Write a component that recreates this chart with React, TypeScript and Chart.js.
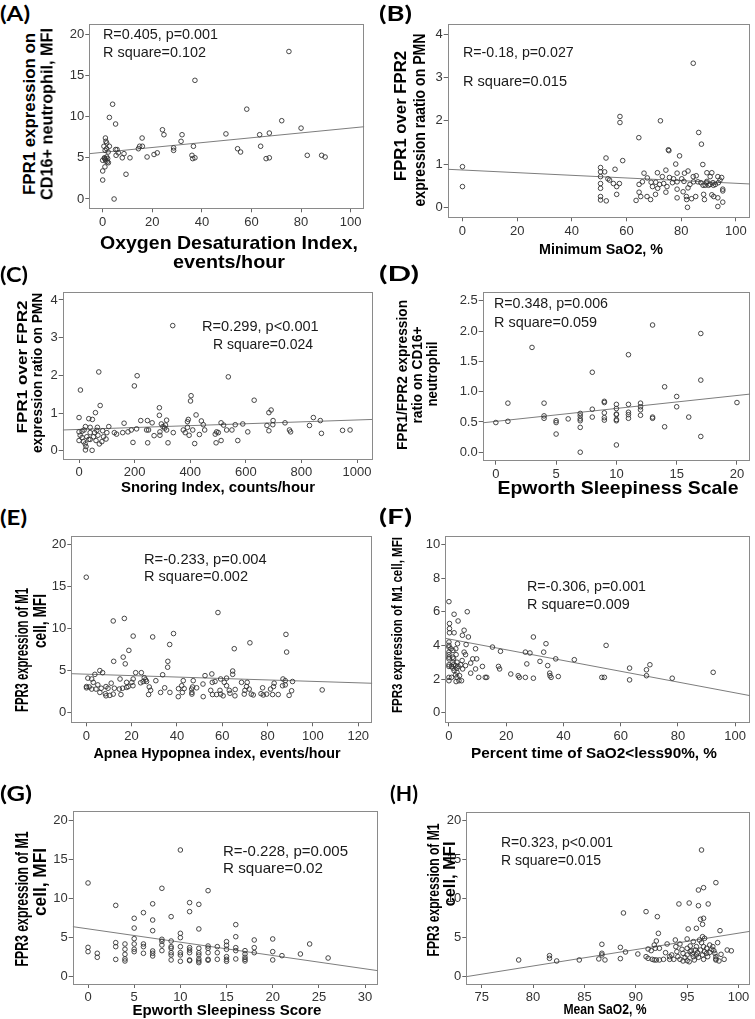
import React, { useEffect, useRef } from "react";
import { Chart, registerables } from "chart.js";
Chart.register(...registerables);

const FONT = "'Liberation Sans', Arial, Helvetica, sans-serif";
const LETTER_FONT = "Lato, 'Open Sans', sans-serif";

// ---------------- DATA ----------------
// (A) Oxygen Desaturation Index vs FPR1 on CD16+ neutrophil
const xA = [75.1,37.2,4.0,2.7,5.2,58.1,72.2,80.0,24.1,24.7,32.0,49.7,63.3,67.2,1.1,1.3,1.6,15.9,31.6,0.5,1.6,2.7,2.2,14.9,16.0,14.4,36.6,63.7,54.4,55.6,28.6,28.6,5.2,5.8,6.3,5.4,8.6,7.9,11.0,17.9,20.7,22.0,36.0,36.3,37.2,65.9,67.2,82.5,88.3,89.7,0.7,1.1,1.3,1.6,1.9,0,0.9,0,9.4,0,4.6,2.3,1.0,0.8,2.0];
const yA = [17.9,14.4,11.5,9.9,9.1,10.9,9.5,8.6,8.4,7.8,7.8,7.9,7.8,8.0,7.4,7.0,6.8,7.4,7.0,6.4,6.1,6.4,5.7,6.4,6.4,6.1,6.4,6.4,6.1,5.7,6.2,5.9,6.0,6.0,5.6,5.3,5.5,5.0,5.0,5.1,5.4,5.6,5.3,4.9,5.0,4.9,5.0,5.3,5.3,5.1,5.0,4.8,4.6,5.1,4.5,4.7,3.9,3.4,3.0,2.3,0.0,4.4,5.9,4.9,4.9];
const fitA = [5.66, 0.0295];

// (B) Minimum SaO2 vs FPR1/FPR2 ratio on PMN
const xB = [0,0,84.4,57.6,57.6,72.4,86.4,64.5,87.4,75.3,75.5,79.4,52.5,58.6,78.0,87.9,50.5,55.8,74.4,50.5,52.0,66.4,71.3,78.5,81.2,82.5,89.4,91.2,50.5,53.2,53.8,67.6,73.1,75.7,77.2,78.5,80.2,81.0,84.4,85.5,93.4,50.5,55.2,57.4,64.6,65.8,69.0,70.7,72.1,73.6,69.5,71.4,74.8,76.8,83.2,87.2,88.0,89.2,90.6,91.6,92.5,93.6,56.4,50.5,78.5,80.7,82.5,64.6,74.4,95.2,95.2,56.4,65.2,67.5,70.6,78.5,81.9,85.3,88.2,91.2,91.9,93.4,50.5,50.5,52.6,63.5,68.8,82.0,83.8,88.5,95.2,82.3,93.4,88.8,90.0,91.8,89.4,94.2,94.8,90.6,84.5,86.1];
const yB = [0.94,0.48,3.33,2.10,1.96,2.0,1.73,1.61,1.46,1.33,1.31,1.19,1.14,1.08,1.0,0.99,0.92,0.88,0.86,0.82,0.82,0.79,0.80,0.79,0.79,0.84,0.80,0.80,0.71,0.66,0.63,0.68,0.71,0.69,0.66,0.59,0.66,0.60,0.71,0.73,0.71,0.55,0.55,0.55,0.53,0.59,0.58,0.58,0.53,0.55,0.48,0.44,0.48,0.57,0.53,0.57,0.51,0.57,0.53,0.57,0.53,0.57,0.48,0.44,0.42,0.36,0.45,0.35,0.35,0.42,0.38,0.30,0.25,0.25,0.30,0.22,0.25,0.25,0.30,0.29,0.25,0.22,0.25,0.17,0.15,0.16,0.18,0.18,0.20,0.18,0.12,0.0,0.02,0.51,0.51,0.51,0.60,0.63,0.69,0.71,0.59,0.59];
const fitB = [0.863, -0.00307];

// (C) Snoring Index vs FPR1/FPR2 ratio on PMN
const xC = [337,71,209,199,5,537,403,401,630,76,289,691,683,59,0,35,48,289,421,843,868,829,222,246,315,393,390,440,447,511,589,562,698,697,676,741,520,162,263,296,302,308,311,107,66,40,23,85,64,18,0,11,40,56,100,127,135,157,176,188,207,243,250,291,315,291,270,339,375,390,382,396,409,433,452,495,501,490,531,550,607,683,757,761,872,948,975,194,247,320,416,493,511,571,0,16,22,25,23,47,40,61,73,82,97,4,11,28,35,52,68,88];
const yC = [3.32,2.09,1.99,1.72,1.61,1.96,1.46,1.32,1.34,1.20,1.14,1.08,1.01,1.01,0.88,0.85,0.83,0.94,0.95,0.88,0.80,0.67,0.80,0.80,0.81,0.83,0.77,0.79,0.69,0.74,0.71,0.69,0.80,0.69,0.67,0.74,0.68,0.73,0.74,0.71,0.64,0.60,0.68,0.64,0.62,0.62,0.64,0.53,0.54,0.55,0.50,0.52,0.48,0.48,0.48,0.48,0.44,0.48,0.50,0.55,0.58,0.55,0.55,0.50,0.55,0.41,0.40,0.48,0.55,0.62,0.48,0.41,0.55,0.43,0.55,0.50,0.48,0.44,0.55,0.55,0.50,0.53,0.55,0.50,0.46,0.54,0.55,0.22,0.21,0.21,0.19,0.21,0.27,0.27,0.27,0.24,0.18,0.11,0.02,0.01,0.30,0.27,0.18,0.24,0.31,0.41,0.35,0.37,0.30,0.37,0.41,0.37];
const fitC = [0.565, 0.000251];

// (D) Epworth Sleepiness Scale vs FPR1/FPR2 ratio on CD16+ neutrophil
const xD = [0,1,1,3,4,4,4,5,5,5,6,7,7,7,7,7,7,8,8,8,9,9,9,9,9,10,10,10,10,10,10,10,11,11,11,11,11,12,12,12,12,13,13,13,14,14,15,15,16,17,17,17,20];
const yD = [0.49,0.81,0.51,1.73,0.81,0.60,0.56,0.52,0.49,0.30,0.55,0.64,0.60,0.55,0.52,0.41,0.0,1.32,0.71,0.58,0.84,0.82,0.65,0.57,0.53,0.79,0.72,0.63,0.62,0.54,0.52,0.12,1.61,0.79,0.66,0.62,0.56,0.81,0.75,0.70,0.61,2.10,0.58,0.56,1.08,0.42,0.92,0.75,0.58,1.96,1.19,0.26,0.82];
const fitD = [0.509, 0.02137];

// (E) Apnea Hypopnea index vs FPR3 on M1 cell
const xE = [0,58.1,11.9,16.8,20.7,29.3,38.5,36.8,88.1,88.4,72.2,65.3,18.8,16.3,12.1,17.2,36.0,35.9,6,7.2,3.8,21.8,24.3,33.7,55.4,64.6,64.6,52.4,0.7,2.4,14.9,20.7,25.6,26.2,30.7,42.8,47.2,59.3,61.9,86.8,87.8,3.1,11.0,17.8,20.1,24.0,25.1,26.6,51.5,55.6,56.8,60.9,68.5,71.0,82.9,91.0,0.1,1.3,5.1,8.7,18.5,20.6,27.8,42.1,46.9,61.9,70.7,82.6,86.6,87.8,0.1,2.4,4.3,6.6,9.6,12.4,14.6,16.0,17.8,28.4,34.6,40.7,43.2,46.5,48.7,54.9,59.0,63.1,65.7,70.0,71.9,77.8,81.3,90.6,104.1,6.0,8.4,11.9,15.3,27.5,32.8,36.9,42.4,46.6,46.6,55.7,57.5,59.3,60.4,63.4,65.6,69.7,72.8,73.7,77.1,78.1,79.6,82.2,84.7,89.5,8.7,10.4,40.6,51.6];
const yE = [16.1,11.9,10.9,11.2,9.1,9.0,9.4,8.1,9.3,7.2,8.3,7.6,7.4,6.6,6.1,5.8,6.1,5.4,5.0,4.75,4.55,4.75,4.75,4.5,4.6,4.95,4.55,4.4,4.1,4.0,4.0,4.0,4.15,3.9,3.8,3.8,3.8,4.0,4.1,4.0,3.8,3.6,3.5,3.6,3.6,3.55,3.7,3.7,3.4,3.6,3.7,3.6,3.6,3.6,3.5,3.7,3.1,3.05,3.3,3.1,3.1,3.2,3.05,3.2,3.05,3.2,3.1,3.1,3.2,3.3,2.95,2.8,2.8,2.9,2.9,2.9,2.8,2.9,3.0,2.65,2.95,2.85,2.85,2.8,2.95,2.65,2.65,2.65,2.75,2.65,2.8,2.95,2.8,2.6,2.7,2.4,2.25,2.2,2.15,2.15,2.4,2.4,2.4,2.2,2.4,2.15,2.15,2.2,2.0,2.3,2.0,2.2,2.2,2.1,2.25,2.1,2.2,2.15,2.15,2.05,2.0,2.05,1.9,1.9];
const fitE = [4.573, -0.00858];

// (F) Percent time SaO2<90% vs FPR3 on M1 cell
const xF = [0,1.8,6.4,3.2,0.2,0.2,0.2,1.8,5.3,4.7,6.8,29.5,0,0,3.0,6.0,33.9,54.9,15.2,0,0.7,2.4,9.3,18.0,0,1.4,5.3,26.7,28.3,33.1,0,2.5,5.8,0,1.4,0,1.6,8.3,9.7,37.3,43.8,4.6,1.4,2.8,7.6,31.8,27.2,0,1.6,2.3,4.1,5.8,70.2,0,0.9,3.2,11.7,17.3,34.5,1.4,2.8,4.8,9.3,17.7,63.1,69.0,1.8,2.8,7.6,21.6,35.2,92.3,2.3,3.7,24.2,35.3,38.2,69.0,0,0.9,2.8,10.4,12.7,13.2,24.6,26.7,29.5,35.7,53.4,54.3,78.0,0,2.5,3.5,4.4,63.1];
const yF = [6.6,5.85,6.0,5.45,5.3,5.0,4.75,4.75,4.9,4.6,4.5,4.5,4.2,4.0,4.1,4.05,4.1,4.0,3.9,3.9,3.8,3.8,3.8,3.65,3.6,3.7,3.6,3.6,3.55,3.6,3.45,3.45,3.45,3.3,3.3,3.2,3.2,3.2,3.2,3.2,3.15,3.1,3.0,3.0,2.95,3.05,2.9,2.85,2.85,2.8,2.85,2.8,2.85,2.75,2.75,2.75,2.75,2.75,2.8,2.65,2.65,2.6,2.6,2.6,2.65,2.55,2.5,2.4,2.35,2.3,2.35,2.4,2.25,2.2,2.2,2.2,2.15,2.2,2.1,2.1,2.1,2.1,2.1,2.1,2.1,2.1,2.05,2.1,2.1,2.1,2.05,1.9,1.85,1.9,1.9,1.95];
const fitF = [4.38, -0.032];

// (G) Epworth Sleepiness Score vs FPR3 on M1 cell
const xG = [0,0,0,1,1,3,3,3,3,4,4,4,4,4,5,5,5,5,5,5,6,6,6,6,7,7,7,7,7,7,8,8,8,8,8,9,9,9,9,9,9,9,10,10,10,10,10,10,10,11,11,11,11,11,11,11,12,12,12,12,12,12,12,12,13,13,13,13,13,13,14,14,14,15,15,15,15,15,15,16,16,16,16,16,17,17,17,17,17,18,18,18,20,20,20,21,23,24,26];
const yG = [11.96,3.74,3.19,2.98,2.47,9.1,4.34,3.83,2.2,4.17,3.5,2.85,2.26,2.0,7.45,6.2,4.85,4.17,3.5,3.19,8.17,4.17,3.83,2.98,9.3,7.23,5.87,3.28,2.98,2.64,11.28,4.77,4.51,4.04,3.32,7.66,4.55,3.83,3.62,3.06,2.77,2.13,16.17,5.53,4.98,3.83,3.06,2.77,1.96,9.45,8.3,3.7,3.4,3.06,2.13,2.04,9.23,6.09,3.62,3.06,2.77,2.26,2.0,1.79,10.98,3.91,3.62,3.06,2.21,2.09,3.83,3.06,2.21,4.47,4.0,3.49,2.55,2.21,1.96,6.64,5.1,3.7,3.32,2.26,3.32,2.89,2.47,2.21,2.0,4.68,3.7,3.06,4.81,3.19,2.13,2.68,2.89,4.17,2.38];
const fitG = [6.10, -0.17];

// (H) Mean SaO2 vs FPR3 on M1 cell
const xH = [78.6,81.6,81.6,82.3,84.5,86.4,86.7,86.7,86.7,87.0,88.5,88.5,89.0,88.8,91.0,90.2,91.0,92.1,92.2,92.0,91.8,91.2,91.5,91.9,92.3,91.2,91.6,91.8,92.0,92.3,92.7,93.05,92.9,93.3,93.5,93.3,93.85,94.2,93.9,94.0,94.1,93.7,94.3,94.5,94.6,94.3,94.8,95.0,95.2,95.1,95.0,95.0,95.0,95.3,95.4,95.5,95.6,95.7,95.8,95.9,96.0,96.1,95.9,96.1,96.1,96.4,96.6,96.3,96.6,96.5,96.2,96.5,96.7,96.4,96.6,96.3,96.7,96.5,96.9,97.0,96.6,97.05,97.2,97.4,97.2,97.5,97.6,97.7,97.8,97.97,98.3,97.8,98.2,97.8,97.8,98.9,98.6,95.6,95.3,95.9,96.9,99.3,98.1,94.6,95.2];
const yH = [2.13,2.68,2.34,2.0,2.13,2.26,4.13,2.98,2.77,2.13,3.74,2.3,3.15,8.13,8.3,2.89,2.55,7.66,5.53,4.55,4.04,3.53,3.32,3.62,3.62,2.34,2.21,2.13,2.13,2.13,2.21,4.17,3.06,2.55,2.77,2.21,4.68,9.28,3.83,3.19,2.55,2.21,4.17,3.49,2.98,2.21,2.43,4.81,9.4,6.09,3.62,2.77,2.04,3.91,3.32,2.89,2.55,2.13,3.4,3.83,3.06,2.47,6.17,11.06,9.06,16.17,11.36,7.32,7.45,6.68,4.68,5.1,4.89,4.34,3.83,3.4,3.19,2.77,2.98,2.55,2.21,9.28,4.04,3.49,3.1,3.83,3.32,2.98,12.0,4.34,2.85,2.55,5.87,2.13,2.26,3.4,2.21,4.47,3.19,2.77,3.62,3.3,2.0,2.0,1.9];
const fitH = [-15.4, 0.2095];

// Tick values / labels
const xTicks100 = [0, 20, 40, 60, 80, 100];
const yTicks20 = [0, 5, 10, 15, 20];
const yTicks4 = [0, 1, 2, 3, 4];
const xTicksC = [0, 200, 400, 600, 800, 1000];
const xTicksD = [0, 5, 10, 15, 20];
const yTicksD = [0, 0.5, 1, 1.5, 2, 2.5];
const yTickLabelsD = ["0.0", "0.5", "1.0", "1.5", "2.0", "2.5"];
const xTicksE = [0, 20, 40, 60, 80, 100, 120];
const yTicksF = [0, 2, 4, 6, 8, 10];
const xTicksG = [0, 5, 10, 15, 20, 25, 30];
const xTicksH = [75, 80, 85, 90, 95, 100];

// Axis extents
const xRangeA = [-5.4, 105.5], yRangeA = [-1.13, 21.2];
const xRangeB = [-5.4, 105.2], yRangeB = [-0.23, 4.23];
const xRangeC = [-58.8, 1055], yRangeC = [-0.22, 4.22];
const xRangeD = [-1.09, 21.09], yRangeD = [-0.14, 2.64];
const xRangeE = [-6.6, 126.2], yRangeE = [-1.15, 21.0];
const xRangeF = [-1.27, 105.2], yRangeF = [-0.57, 10.5];
const xRangeG = [-1.66, 31.37], yRangeG = [-0.94, 21.15];
const xRangeH = [73.5, 101.13], yRangeH = [-0.94, 21.06];

// ---------------- LAYOUT ----------------
type Panel = {
  id: string; xs: number[]; ys: number[]; fit: number[];
  xr: number[]; yr: number[]; xt: number[]; yt: number[]; yl?: string[];
  area: { l: number; t: number; r: number; b: number };
};

const PANELS: Panel[] = [
  { id: "A", xs: xA, ys: yA, fit: fitA, xr: xRangeA, yr: yRangeA, xt: xTicks100, yt: yTicks20, area: { l: 89.3, t: 24.3, r: 364.3, b: 208.3 } },
  { id: "B", xs: xB, ys: yB, fit: fitB, xr: xRangeB, yr: yRangeB, xt: xTicks100, yt: yTicks4, area: { l: 447.7, t: 24.3, r: 754.5, b: 217.3 } },
  { id: "C", xs: xC, ys: yC, fit: fitC, xr: xRangeC, yr: yRangeC, xt: xTicksC, yt: yTicks4, area: { l: 62.7, t: 291.7, r: 372.3, b: 459 } },
  { id: "D", xs: xD, ys: yD, fit: fitD, xr: xRangeD, yr: yRangeD, xt: xTicksD, yt: yTicksD, yl: yTickLabelsD, area: { l: 482.7, t: 292.3, r: 753.7, b: 460.7 } },
  { id: "E", xs: xE, ys: yE, fit: fitE, xr: xRangeE, yr: yRangeE, xt: xTicksE, yt: yTicks20, area: { l: 71.3, t: 536, r: 372.3, b: 722.3 } },
  { id: "F", xs: xF, ys: yF, fit: fitF, xr: xRangeF, yr: yRangeF, xt: xTicks100, yt: yTicksF, area: { l: 445.3, t: 536, r: 753.7, b: 722.3 } },
  { id: "G", xs: xG, ys: yG, fit: fitG, xr: xRangeG, yr: yRangeG, xt: xTicksG, yt: yTicks20, area: { l: 72.7, t: 811, r: 377.7, b: 984 } },
  { id: "H", xs: xH, ys: yH, fit: fitH, xr: xRangeH, yr: yRangeH, xt: xTicksH, yt: yTicks20, area: { l: 466.3, t: 811.7, r: 754.7, b: 984 } },
];

type Lbl = { text: string; x: number; y: number; size: number; len?: number; bold?: boolean; rot?: boolean; left?: boolean; family?: string; color?: string };

const LETTERS: Lbl[] = [
  { text: "(A)", x: 0, y: 12, size: 21, len: 30 },
  { text: "(B)", x: 378.5, y: 12, size: 21, len: 33 },
  { text: "(C)", x: 0, y: 272.5, size: 21, len: 28 },
  { text: "(D)", x: 378.5, y: 272, size: 21, len: 40 },
  { text: "(E)", x: 0, y: 516, size: 21, len: 27 },
  { text: "(F)", x: 378.5, y: 515, size: 21, len: 33 },
  { text: "(G)", x: 0, y: 792, size: 21, len: 32 },
  { text: "(H)", x: 390, y: 792, size: 21, len: 28 },
].map((l) => ({ ...l, left: true, bold: true, family: LETTER_FONT, color: "#000" }));

const Y_TITLES: Lbl[] = [
  { text: "FPR1 expression on", x: 29, y: 114, size: 17, len: 162 },
  { text: "CD16+ neutrophil, MFI", x: 47, y: 114, size: 17, len: 172 },
  { text: "FPR1 over FPR2", x: 400.3, y: 116, size: 17, len: 130 },
  { text: "expression raatio on PMN", x: 418.7, y: 120, size: 17, len: 173 },
  { text: "FPR1 over FPR2", x: 21.7, y: 367, size: 15.5, len: 133 },
  { text: "expression ratio on PMN", x: 36.7, y: 373, size: 15.5, len: 160 },
  { text: "FPR1/FPR2 expression", x: 402, y: 375, size: 15.5, len: 150 },
  { text: "ratio on CD16+", x: 417, y: 375, size: 15.5, len: 97 },
  { text: "neutrophil", x: 432, y: 374, size: 15.5, len: 65 },
  { text: "FPR3 expression of M1", x: 22, y: 650, size: 18, len: 124 },
  { text: "cell, MFI", x: 39.5, y: 621, size: 18, len: 54 },
  { text: "FPR3 expression of M1 cell, MFI", x: 397, y: 625, size: 14.5, len: 176 },
  { text: "FPR3 expression of M1", x: 22, y: 899, size: 18, len: 135 },
  { text: "cell, MFI", x: 39.5, y: 882, size: 18, len: 68 },
  { text: "FPR3 expression of M1", x: 433, y: 890, size: 16.5, len: 133 },
  { text: "cell, MFI", x: 449, y: 874, size: 16.5, len: 65 },
].map((l) => ({ ...l, rot: true, bold: true, color: "#000" }));

const X_TITLES: Lbl[] = [
  { text: "Oxygen Desaturation Index,", x: 229, y: 242, size: 19, len: 258 },
  { text: "events/hour", x: 229, y: 261, size: 19, len: 112 },
  { text: "Minimum SaO2, %", x: 601, y: 249, size: 14, len: 124 },
  { text: "Snoring Index, counts/hour", x: 218, y: 486, size: 15, len: 194 },
  { text: "Epworth Sleepiness Scale", x: 618, y: 487, size: 19, len: 241 },
  { text: "Apnea Hypopnea index, events/hour", x: 217, y: 753, size: 14.5, len: 247 },
  { text: "Percent time of SaO2<less90%, %", x: 594, y: 753, size: 14.5, len: 246 },
  { text: "Epworth Sleepiness Score", x: 227, y: 1009, size: 15, len: 189 },
  { text: "Mean SaO2, %", x: 605, y: 1009, size: 14, len: 83 },
].map((l) => ({ ...l, bold: true, color: "#000" }));

const NOTES: Lbl[] = [
  { text: "R=0.405, p=0.001", x: 102.7, y: 34.3, size: 14.4, len: 115 },
  { text: "R square=0.102", x: 102.7, y: 52, size: 14.4, len: 103 },
  { text: "R=-0.18, p=0.027", x: 463, y: 52.3, size: 14.4, len: 110.7 },
  { text: "R square=0.015", x: 463, y: 80.7, size: 14.4, len: 104 },
  { text: "R=0.299, p<0.001", x: 202.3, y: 325.7, size: 14.4, len: 116.7 },
  { text: "R square=0.024", x: 213.3, y: 344, size: 14.4, len: 100 },
  { text: "R=0.348, p=0.006", x: 493.7, y: 303.3, size: 14.4, len: 114 },
  { text: "R square=0.059", x: 493.7, y: 321.7, size: 14.4, len: 103 },
  { text: "R=-0.233, p=0.004", x: 144, y: 559, size: 14.4, len: 122.7 },
  { text: "R square=0.002", x: 144, y: 576, size: 14.4, len: 104 },
  { text: "R=-0.306, p=0.001", x: 527, y: 585.7, size: 14.4, len: 119 },
  { text: "R square=0.009", x: 527, y: 603.7, size: 14.4, len: 102.7 },
  { text: "R=-0.228, p=0.005", x: 222.7, y: 850.7, size: 14.4, len: 125 },
  { text: "R square=0.02", x: 222.7, y: 868.3, size: 14.4, len: 100 },
  { text: "R=0.323, p<0.001", x: 501, y: 842.3, size: 14.4, len: 112 },
  { text: "R square=0.015", x: 501, y: 860, size: 14.4, len: 100 },
].map((l) => ({ ...l, left: true, color: "#1a1a1a" }));

// ---------------- RENDERING ----------------
const mctx = document.createElement("canvas").getContext("2d") as CanvasRenderingContext2D;
function measure(text: string, font: string) {
  mctx.font = font;
  return mctx.measureText(text).width;
}

function Label({ l }: { l: Lbl }) {
  const fam = l.family ?? FONT;
  const font = `${l.bold ? "bold" : "normal"} ${l.size}px ${fam}`;
  const nat = measure(l.text, font);
  const sx = l.len && nat > 0 ? l.len / nat : 1;
  const style: React.CSSProperties = {
    position: "absolute",
    left: l.x,
    top: l.y,
    font,
    lineHeight: 1,
    whiteSpace: "nowrap",
    color: l.color ?? "#111",
    transformOrigin: l.left ? "0 50%" : "50% 50%",
    transform: l.left
      ? `translateY(-50%) scaleX(${sx})`
      : `translate(-50%, -50%) ${l.rot ? "rotate(-90deg) " : ""}scaleX(${sx})`,
  };
  return <div style={style}>{l.text}</div>;
}

const boxPlugin = {
  id: "plotBox",
  beforeDatasetsDraw(chart: any) {
    const { ctx, chartArea: a } = chart;
    ctx.save();
    ctx.strokeStyle = "#8a8a8a";
    ctx.lineWidth = 1;
    ctx.strokeRect(Math.round(a.left) + 0.5, Math.round(a.top) + 0.5, Math.round(a.right - a.left) - 1, Math.round(a.bottom - a.top));
    ctx.restore();
  },
};

function ScatterPanel({ p }: { p: Panel }) {
  const ref = useRef<HTMLCanvasElement>(null);
  const cl = Math.floor(p.area.l) - 40;
  const ct = Math.floor(p.area.t) - 14;
  const cr = Math.min(755, Math.ceil(p.area.r) + 6);
  const cb = Math.ceil(p.area.b) + 30;
  const w = cr - cl;
  const h = cb - ct;

  useEffect(() => {
    if (!ref.current) return;
    const n = Math.min(p.xs.length, p.ys.length);
    const pts = [];
    for (let i = 0; i < n; i++) pts.push({ x: p.xs[i], y: p.ys[i] });
    const [b0, b1] = p.fit;
    const fitLine = [
      { x: p.xr[0], y: b0 + b1 * p.xr[0] },
      { x: p.xr[1], y: b0 + b1 * p.xr[1] },
    ];
    const tickFont = { family: FONT, size: 13 };
    const grid = { display: true, drawOnChartArea: false, drawTicks: true, tickLength: 4, color: "#666", lineWidth: 1 };
    const chart = new Chart(ref.current, {
      type: "scatter",
      data: {
        datasets: [
          {
            type: "scatter",
            data: pts,
            pointRadius: 2.3,
            pointBorderWidth: 0.9,
            borderColor: "#333",
            backgroundColor: "rgba(0,0,0,0)",
            pointBackgroundColor: "rgba(0,0,0,0)",
            pointBorderColor: "#333",
            order: 1,
          } as any,
          {
            type: "line",
            data: fitLine,
            borderColor: "#7d7d7d",
            borderWidth: 1,
            pointRadius: 0,
            fill: false,
            order: 2,
          } as any,
        ],
      },
      options: {
        responsive: false,
        animation: false,
        devicePixelRatio: 1,
        layout: { padding: { left: 0, top: p.area.t - ct, right: cr - p.area.r, bottom: 0 } },
        plugins: { legend: { display: false }, tooltip: { enabled: false } },
        scales: {
          x: {
            type: "linear",
            bounds: "data",
            min: p.xr[0],
            max: p.xr[1],
            afterBuildTicks: (s: any) => { s.ticks = p.xt.map((v) => ({ value: v })); },
            afterFit: (s: any) => { s.height = cb - p.area.b; },
            grid,
            border: { display: false },
            ticks: { font: tickFont, color: "#333", padding: 2, maxRotation: 0, autoSkip: false, callback: (_v: any, i: number) => String(p.xt[i]) },
          },
          y: {
            type: "linear",
            bounds: "data",
            min: p.yr[0],
            max: p.yr[1],
            afterBuildTicks: (s: any) => { s.ticks = p.yt.map((v) => ({ value: v })); },
            afterFit: (s: any) => { s.width = p.area.l - cl; },
            grid,
            border: { display: false },
            ticks: { font: tickFont, color: "#333", padding: 1, autoSkip: false, callback: (_v: any, i: number) => (p.yl ? p.yl[i] : String(p.yt[i])) },
          },
        },
      } as any,
      plugins: [boxPlugin],
    });
    return () => chart.destroy();
  }, []);

  return (
    <canvas
      ref={ref}
      width={w}
      height={h}
      style={{ position: "absolute", left: cl, top: ct, width: w, height: h }}
    />
  );
}

export default function App() {
  return (
    <div style={{ position: "absolute", left: 0, top: 0, width: 755, height: 1019, background: "#fff", overflow: "hidden" }}>
      {PANELS.map((p) => (
        <ScatterPanel key={p.id} p={p} />
      ))}
      {[...LETTERS, ...Y_TITLES, ...X_TITLES, ...NOTES].map((l, i) => (
        <Label key={i} l={l} />
      ))}
    </div>
  );
}
